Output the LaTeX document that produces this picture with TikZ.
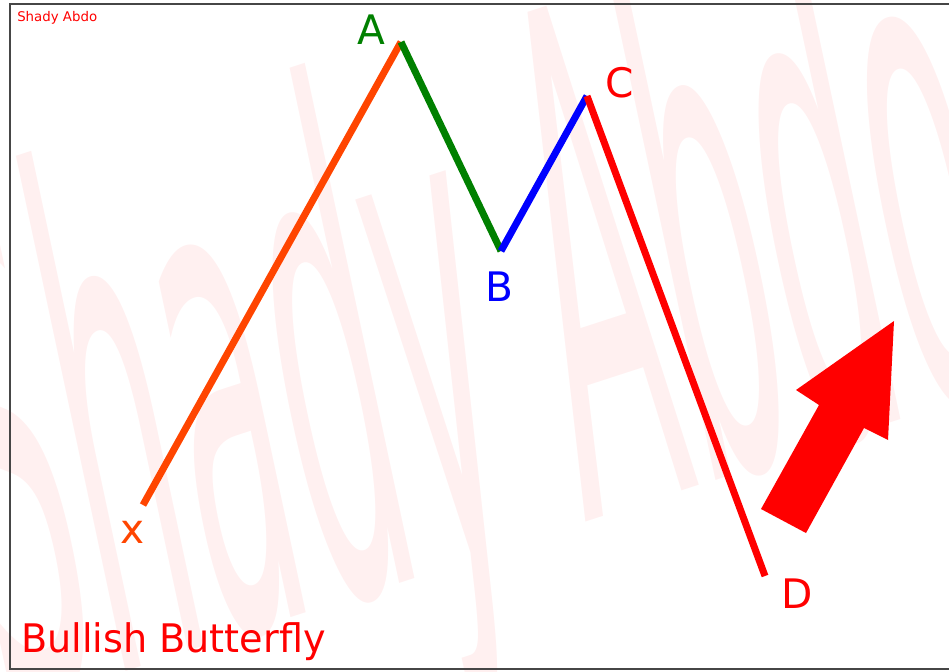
\documentclass[tikz,border=0pt]{standalone}
\usepackage{fontspec}
\setmainfont{DejaVu Sans}
\usetikzlibrary{positioning}
\definecolor{xaorange}{RGB}{255,69,0}
\definecolor{abgreen}{RGB}{0,128,0}
\definecolor{bcblue}{RGB}{0,0,255}
\definecolor{cdred}{RGB}{255,0,0}
\definecolor{wmpink}{RGB}{255,240,240}
\definecolor{framegray}{RGB}{70,70,70}

\begin{document}
\begin{tikzpicture}[
    x=0.75pt, y=-0.75pt,
    leg/.style={line width=5.25pt},
    ptlabel/.style={inner sep=0pt, font=\fontsize{30.5pt}{30.5pt}\selectfont},
    redtext/.style={inner sep=0pt, anchor=base west, text=cdred},
    watermark/.style={inner sep=0pt, anchor=base west, text=wmpink,
                      font=\fontsize{100pt}{100pt}\selectfont,
                      cm={1.274,0.414,-1.082,5.086,(0,0)}}
  ]
  \useasboundingbox (0,0) rectangle (949,671);

  % watermark and frame
  \begin{scope}
    \clip (0,0) rectangle (949,671);
    \node[watermark] (wm) at (2,712) {Shady Abdo};
    \draw[framegray, line width=1.2pt] (10,4) rectangle (960,669);
  \end{scope}

  % pattern points
  \coordinate (X) at (143,505);
  \coordinate (A) at (401,42);
  \coordinate (B) at (501,251);
  \coordinate (C) at (587,96);
  \coordinate (D) at (765,576);

  \draw[leg, xaorange] (X) -- (A);
  \draw[leg, abgreen] (A) -- (B);
  \draw[leg, bcblue] (B) -- (C);
  \draw[leg, cdred] (C) -- (D);

  \node[ptlabel, text=xaorange] (lX) at (133,532) {x};
  \node[ptlabel, text=abgreen] (lA) at (371,30) {A};
  \node[ptlabel, text=bcblue] (lB) at (499,287) {B};
  \node[ptlabel, text=cdred] (lC) at (620,83) {C};
  \node[ptlabel, text=cdred] (lD) at (797,594) {D};

  % bullish arrow
  \fill[cdred] (894,321) -- (888,440) -- (864,428) -- (806,533)
    -- (761,509) -- (819,405) -- (796,390) -- cycle;

  \node[redtext, font=\fontsize{10pt}{10pt}\selectfont] (author) at (17,21.5) {Shady Abdo};
  \node[redtext, font=\fontsize{29.5pt}{29.5pt}\selectfont, xscale=0.97] (title)
    at (21,652) {Bullish Butterfly};
\end{tikzpicture}
\end{document}
